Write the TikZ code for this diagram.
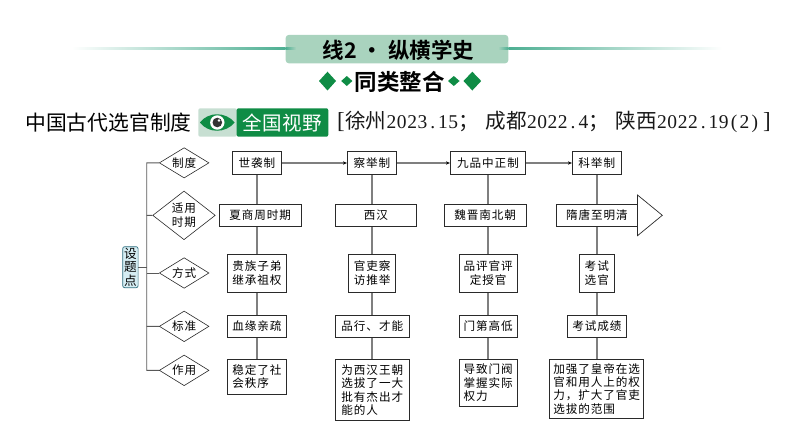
\documentclass[tikz,border=0pt]{standalone}
\usepackage{fontspec}
\usetikzlibrary{arrows.meta,shapes.geometric,backgrounds}
\setmainfont{Liberation Serif}
\newfontfamily\cjk[LetterSpace=8]{Noto Sans CJK SC}
\newfontfamily\cjkplain{Noto Sans CJK SC}
\newfontfamily\cjkbold{Noto Sans CJK SC Bold}
\definecolor{hdr}{HTML}{A9D3BE}
\definecolor{grn}{HTML}{0F8C45}
\definecolor{lgrn}{HTML}{C7DFD2}
\definecolor{tealline}{HTML}{4DAF92}
\definecolor{edgec}{HTML}{2A2A2A}
\definecolor{vgray}{HTML}{7F7F7F}
\definecolor{lblue}{HTML}{D5EDF3}
\definecolor{tealb}{HTML}{2F6F7F}
\tikzset{
  chartbox/.style={draw=edgec,line width=0.85pt,fill=white,inner sep=0pt,align=center,
    font=\cjk\fontsize{11.6}{13.4}\selectfont,text=black},
  leftbox/.style={chartbox,align=left},
  dia/.style={diamond,draw=edgec,line width=0.6pt,fill=white,inner sep=0pt,aspect=1.6,align=center,
    font=\cjk\fontsize{11.6}{13.4}\selectfont,text=black},
  vline/.style={draw=vgray,line width=1.7pt},
  harrow/.style={draw=vgray,line width=1.1pt,-{Stealth[length=4pt,width=3.4pt,black]}},
  trunk/.style={draw=black!65,line width=0.9pt},
}
\newcommand{\bx}[7][chartbox]{% style,name,x1,y1,x2,y2,text
  \node[#1,minimum width={(#5-#3)*1pt},minimum height={(#6-#4)*1pt}] (#2) at ({(#3+#5)/2},{(#4+#6)/2}) {#7};}
\newcommand{\dm}[6]{% name,x1,y1,x2,y2,text
  \node[dia,minimum width={(#4-#2)*1pt},minimum height={(#5-#3)*1pt}] (#1) at ({(#2+#4)/2},{(#3+#5)/2}) {#6};}
\def\hwloop#1{\ifx#1\relax\else\makebox[10.3pt]{#1}\expandafter\hwloop\fi}
\newcommand{\hwfont}{\rmfamily\fontsize{19.5}{20}\selectfont}
\newcommand{\brfont}{\rmfamily\fontsize{23}{24}\selectfont}
\begin{document}
\begin{tikzpicture}[x=1pt,y=-1pt]
\useasboundingbox (0,0) rectangle (794,447);
% header
\shade[left color=white,right color=tealline] (72,47.9) rectangle (285.7,49.5);
\shade[left color=tealline,right color=white] (508.3,47.9) rectangle (722,49.5);
\node[fill=hdr,rounded corners=3pt,minimum width=222.6pt,minimum height=28.3pt,inner sep=0pt] (hd) at (397,49.1) {};
\shade[left color=tealline,right color=hdr] (285.7,47.9) rectangle (296,49.5);
\shade[left color=hdr,right color=tealline] (498,47.9) rectangle (508.3,49.5);
\node[anchor=center,inner sep=0pt,text=black] (hdt) at (398.5,50.5) {\cjkbold\fontsize{21.5}{24}\selectfont 线2\kern5pt·\kern5pt纵横学史};
\node[inner sep=0pt,text=black] (sub) at (399.5,82) {\cjkbold\fontsize{22.5}{24}\selectfont 同类整合};
\fill[grn] (319,81)--(327.5,71.7)--(336,81)--(327.5,90.5)--cycle;
\fill[grn] (341.2,81)--(346.8,76)--(352.4,81)--(346.8,86)--cycle;
\fill[grn] (448,81)--(453.8,76)--(459.6,81)--(453.8,86)--cycle;
\fill[grn] (463.5,81)--(472.3,71.7)--(481.2,81)--(472.3,90.5)--cycle;
% title line
\node[anchor=west,inner sep=0pt] (ttl) at (25,122.5) {\cjkplain\fontsize{20.8}{24}\selectfont 中国古代选官制度};
\fill[lgrn,rounded corners=2pt] (198.3,108.3) rectangle (237,136.7);
\fill[grn,rounded corners=2pt] (236.7,108.3) rectangle (328.3,136.7);
\fill[grn] (200,122.5) .. controls (208,111.5) and (226,111.5) .. (234.5,122.5) .. controls (226,133.5) and (208,133.5) .. (200,122.5) -- cycle;
\fill[white] (217.3,122.5) circle (7.2);
\fill[black!80] (217.3,122.5) circle (4.8);
\fill[white] (219,120.5) circle (1.3);
\node[inner sep=0pt,text=white] (bdg) at (282.5,122.5) {\cjkplain\addfontfeature{LetterSpace=3}\fontsize{19.5}{22}\selectfont 全国视野};
\node[anchor=west,inner sep=0pt,text=black!90] (src) at (336.5,122) {\cjkplain\fontsize{20.6}{24}\selectfont {\brfont\makebox[8.5pt]{[}}徐州{\hwfont\hwloop 2023.15\relax}；\kern6.5pt成都{\hwfont\hwloop 2022.4\relax}；\kern6.5pt陕西{\hwfont\hwloop 2022.19(2)\relax}\kern2pt{\brfont\makebox[10pt]{]}}};
% chart nodes
\node[draw=tealb,fill=lblue,rounded corners=2pt,line width=0.7pt,inner sep=0pt,minimum width=15.4pt,minimum height=41pt,align=center,font=\cjkplain\fontsize{12.6}{13.4}\selectfont] (sd) at (130.4,267.2) {设\\题\\点};
\dm{d1}{159.3}{147.7}{209}{178}{制度}
\dm{d2}{158.7}{191}{209.3}{239.7}{适用\\时期}
\dm{d3}{159.3}{257.7}{209}{288.3}{方式}
\dm{d4}{159.3}{311}{209}{341.7}{标准}
\dm{d5}{159.3}{355}{209}{385.7}{作用}
\bx{a1}{232.3}{151.7}{281.7}{174.3}{世袭制}
\bx{a2}{347.3}{151.7}{396.7}{174.3}{察举制}
\bx{a3}{450.3}{151.7}{525.7}{174.3}{九品中正制}
\bx{a4}{572.3}{151.7}{621.3}{174.3}{科举制}
\bx{b1}{219.3}{204}{301}{226.7}{夏商周时期}
\bx{b2}{335.3}{204}{416.7}{226.7}{西汉}
\bx{b3}{444.3}{204}{526}{226.7}{魏晋南北朝}
\bx{b4}{556}{204}{637.7}{226.7}{隋唐至明清}
\bx{c1}{227.3}{254.3}{286.7}{292}{贵族子弟\\继承祖权}
\bx{c2}{348.7}{254.3}{395.7}{292}{官吏察\\访推举}
\bx{c3}{459.3}{254.3}{517}{292}{品评官评\\定授官}
\bx{c4}{579.3}{254.3}{614.3}{292}{考试\\选官}
\bx{e1}{227.3}{315}{286.7}{337.7}{血缘亲疏}
\bx{e2}{335.3}{315}{409.3}{337.7}{品行、才能}
\bx{e3}{459.3}{315}{517}{337.7}{门第高低}
\bx{e4}{567.3}{315}{626.7}{337.7}{考试成绩}
\bx[leftbox]{f1}{227.3}{359.3}{286.7}{394}{稳定了社\\会秩序}
\bx[leftbox]{f2}{335.3}{359.3}{409.3}{420.7}{为西汉王朝\\选拔了一大\\批有杰出才\\能的人}
\bx[leftbox]{f3}{459.3}{359.3}{517}{406.7}{导致门阀\\掌握实际\\权力}
\bx[leftbox]{f4}{549.7}{359.3}{643.7}{418.3}{加强了皇帝在选\\官和用人上的权\\力，扩大了官吏\\选拔的范围}
\draw[draw=edgec,line width=0.7pt,fill=white] (637.5,195)--(662.3,215.3)--(637.5,235.7)--cycle;
% connectors
\begin{scope}[on background layer]
\foreach \p/\q in {a1/f1,a2/f2,a3/f3,a4/f4}
  \draw[vline] (\p.south) -- (\p.south |- \q.north);
\end{scope}
\draw[harrow] (a1) -- (a2);
\draw[harrow] (a2) -- (a3);
\draw[harrow] (a3) -- (a4);
\coordinate (t1) at (146.7,162.8);
\coordinate (t2) at (146.7,215.3);
\coordinate (t3) at (146.7,273);
\coordinate (t4) at (146.7,326.3);
\coordinate (t5) at (146.7,370.3);
\coordinate (t0) at (146.7,267.2);
\draw[trunk] (d1.west) -- (t1) -- (t5) -- (d5.west);
\draw[trunk] (t2) -- (d2.west);
\draw[trunk] (t3) -- (d3.west);
\draw[trunk] (t4) -- (d4.west);
\draw[trunk] (sd.east) -- (t0);
\end{tikzpicture}
\end{document}
